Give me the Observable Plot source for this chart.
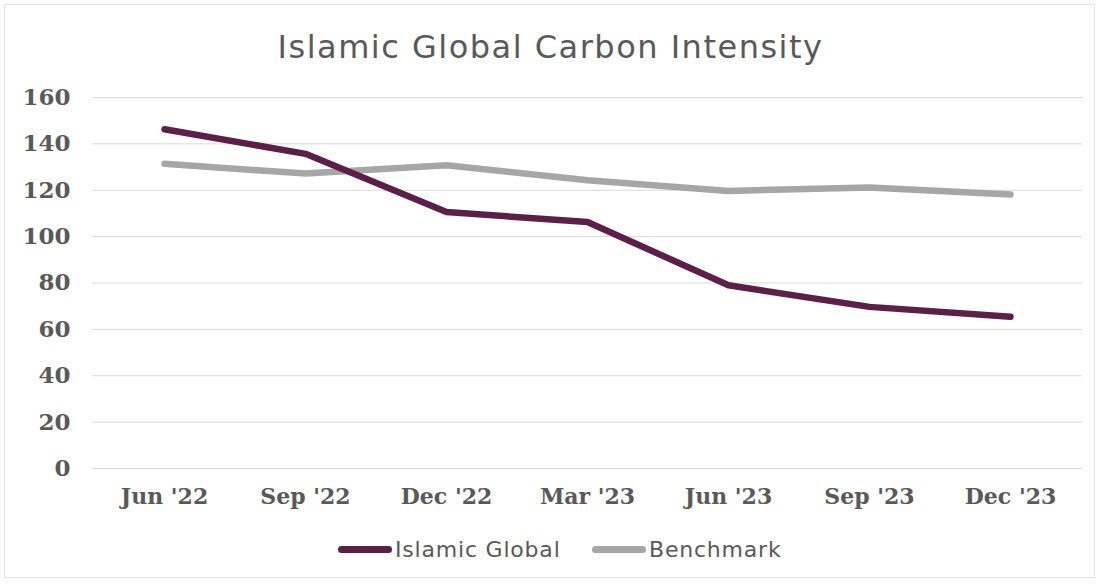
<!DOCTYPE html>
<html>
<head>
<meta charset="utf-8">
<script src="https://cdn.jsdelivr.net/npm/d3@7"></script>
<script src="https://cdn.jsdelivr.net/npm/@observablehq/plot@0.6"></script>
<style>
  html, body { margin: 0; padding: 0; background: #fff; }
  #frame { position: absolute; left: 4px; top: 4px; width: 1091px; height: 574px; border: 1px solid #e3e3e3; box-sizing: border-box; }
  #wrap { position: relative; width: 1101px; height: 584px; }
  #title { position: absolute; left: 0; top: 0; width: 1101px; height: 80px; text-align: center; font-family: "DejaVu Sans", Verdana, sans-serif; font-size: 32px; letter-spacing: 1.5px; color: #595959; line-height: 94px; }
  #chart { position: absolute; left: 0; top: 80px; }
  #legend { position: absolute; left: 0; top: 534px; width: 1101px; height: 34px; font-family: "DejaVu Sans", Verdana, sans-serif; font-size: 22px; letter-spacing: 0.8px; color: #595959; }
  .item { position: absolute; top: 3px; display: flex; align-items: center; }
  .sw { display: inline-block; width: 54px; height: 7px; border-radius: 3.5px; margin-right: 3px; }
</style>
</head>
<body>
<div id="wrap">
  <div id="frame"></div>
  <div id="title">Islamic Global Carbon Intensity</div>
  <div id="chart"></div>
  <div id="legend"></div>
</div>
<script>
const quarters = ["Jun '22", "Sep '22", "Dec '22", "Mar '23", "Jun '23", "Sep '23", "Dec '23"];
const islamicGlobal = [146.3, 135.7, 110.6, 106.3, 79.0, 69.7, 65.4];
const benchmark = [131.4, 127.2, 130.8, 124.3, 119.7, 121.2, 118.2];
const seriesNames = ["Islamic Global", "Benchmark"];
const seriesColors = ["#5b1f48", "#a6a6a6"];
const yTicks = [0, 20, 40, 60, 80, 100, 120, 140, 160];

const data = [
  ...quarters.map((q, i) => ({quarter: q, value: islamicGlobal[i], series: seriesNames[0]})),
  ...quarters.map((q, i) => ({quarter: q, value: benchmark[i], series: seriesNames[1]}))
];

const chart = Plot.plot({
  width: 1101,
  height: 440,
  marginTop: 17,
  marginBottom: 52,
  marginLeft: 92,
  marginRight: 19,
  style: {background: "transparent"},
  x: {type: "point", domain: quarters, padding: 0.5, label: null},
  y: {domain: [0, 160], label: null},
  color: {domain: seriesNames, range: seriesColors},
  marks: [
    Plot.ruleY(yTicks, {stroke: "#d9d9d9", strokeWidth: 1}),
    Plot.axisY({ticks: yTicks, tickSize: 0, tickPadding: 22, fontSize: 23, fontWeight: "bold", fontFamily: "DejaVu Serif", fill: "#595959", label: null}),
    Plot.axisX({tickSize: 0, tickPadding: 20, fontSize: 22, fontWeight: "bold", fontFamily: "DejaVu Serif", fill: "#595959", label: null}),
    Plot.line(data.filter(d => d.series === seriesNames[1]), {x: "quarter", y: "value", stroke: "series", strokeWidth: 6.5, strokeLinecap: "round", strokeLinejoin: "round"}),
    Plot.line(data.filter(d => d.series === seriesNames[0]), {x: "quarter", y: "value", stroke: "series", strokeWidth: 6.5, strokeLinecap: "round", strokeLinejoin: "round"})
  ]
});
document.getElementById("chart").appendChild(chart);

const legend = document.getElementById("legend");
const lefts = [338, 592];
seriesNames.forEach((name, i) => {
  const it = document.createElement("div");
  it.className = "item";
  it.style.left = lefts[i] + "px";
  const sw = document.createElement("span");
  sw.className = "sw";
  sw.style.background = seriesColors[i];
  it.appendChild(sw);
  it.appendChild(document.createTextNode(name));
  legend.appendChild(it);
});
</script>
</body>
</html>
